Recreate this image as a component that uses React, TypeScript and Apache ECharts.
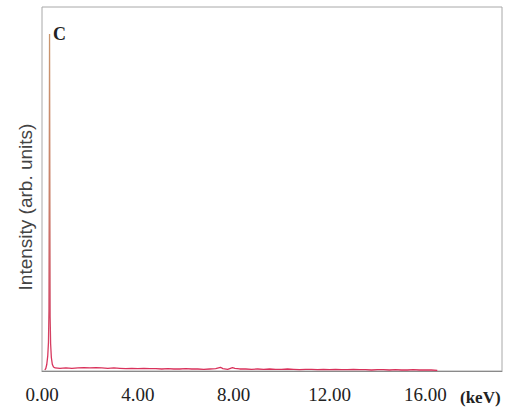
import React, { useEffect, useRef } from "react";
import * as echarts from "echarts";

// Energy (keV) and intensity (arb. units) of the EDS spectrum
const peakEnergy = [0.12, 0.16, 0.2, 0.24, 0.27, 0.29, 0.315, 0.34, 0.36, 0.39, 0.43, 0.48, 0.55];
const peakIntensity = [0.3, 0.8, 2.0, 4.5, 8.5, 18, 100, 16, 8, 4, 2.0, 1.2, 0.9];

const baseEnergy = [
  0.75, 1.0, 1.25, 1.5, 1.75, 2.0, 2.25, 2.5, 2.75, 3.0, 3.25, 3.5, 3.75, 4.0, 4.25, 4.5,
  4.75, 5.0, 5.25, 5.5, 5.75, 6.0, 6.25, 6.5, 6.75, 7.0, 7.25, 7.45, 7.55, 7.75, 7.95, 8.05,
  8.25, 8.5, 8.75, 9.0, 9.25, 9.5, 9.75, 10.0, 10.25, 10.5, 10.75, 11.0, 11.25, 11.5, 11.75,
  12.0, 12.25, 12.5, 12.75, 13.0, 13.25, 13.5, 13.75, 14.0, 14.25, 14.5, 14.75, 15.0, 15.25,
  15.5, 15.75, 16.0, 16.25, 16.5,
];
const baseIntensity = [
  0.8, 0.9, 0.8, 0.9, 1.0, 0.9, 1.0, 0.9, 0.8, 0.9, 0.8, 0.7, 0.8, 0.7, 0.8, 0.7,
  0.7, 0.6, 0.7, 0.6, 0.6, 0.7, 0.6, 0.6, 0.5, 0.6, 0.7, 1.1, 0.7, 0.5, 1.0, 0.8,
  0.6, 0.6, 0.5, 0.6, 0.5, 0.6, 0.5, 0.5, 0.6, 0.5, 0.4, 0.5, 0.5, 0.4, 0.5,
  0.4, 0.5, 0.4, 0.4, 0.5, 0.4, 0.4, 0.3, 0.4, 0.4, 0.3, 0.4, 0.3, 0.3,
  0.4, 0.3, 0.3, 0.3, 0.2,
];

const xTicks = [0, 4, 8, 12, 16];
const peakLabel = "C";
const yTitle = "Intensity (arb. units)";
const xUnit = "(keV)";

export default function App() {
  const ref = useRef<HTMLDivElement>(null);

  useEffect(() => {
    if (!ref.current) return;
    const chart = echarts.init(ref.current, undefined, { renderer: "svg" });
    const data: number[][] = [];
    peakEnergy.forEach((e, i) => data.push([e, peakIntensity[i]]));
    baseEnergy.forEach((e, i) => data.push([e, baseIntensity[i]]));

    chart.setOption({
      animation: false,
      backgroundColor: "#ffffff",
      grid: {
        left: 42,
        right: 11,
        top: 7,
        bottom: 38,
        show: true,
        borderColor: "#a8a8a8",
        borderWidth: 1,
      },
      xAxis: {
        type: "value",
        min: 0,
        max: 19.2,
        interval: 4,
        axisLine: { show: true, lineStyle: { color: "#8a8a8a", width: 1 } },
        axisTick: { show: false },
        splitLine: { show: false },
        axisLabel: {
          margin: 14,
          color: "#222",
          fontFamily: "Liberation Serif, Times New Roman, serif",
          fontSize: 19,
          formatter: (v: number) => (xTicks.includes(v) ? v.toFixed(2) : ""),
        },
      },
      yAxis: {
        type: "value",
        min: 0,
        max: 108,
        axisLine: { show: false },
        axisTick: { show: false },
        splitLine: { show: false },
        axisLabel: { show: false },
      },
      series: [
        {
          type: "line",
          data,
          showSymbol: false,
          symbol: "none",
          lineStyle: {
            width: 1.3,
            color: new echarts.graphic.LinearGradient(0, 0, 0, 1, [
              { offset: 0, color: "#c9966e" },
              { offset: 0.5, color: "#c9806a" },
              { offset: 0.8, color: "#d2506a" },
              { offset: 1, color: "#d9305a" },
            ]),
          },
        },
      ],
      graphic: [
        {
          type: "text",
          left: 53,
          top: 25,
          style: {
            text: peakLabel,
            fill: "#222",
            font: "bold 18px 'Liberation Serif', 'Times New Roman', serif",
          },
        },
        {
          type: "text",
          left: 460,
          top: 389,
          style: {
            text: xUnit,
            fill: "#222",
            font: "bold 17px 'Liberation Serif', 'Times New Roman', serif",
          },
        },
        {
          type: "text",
          x: 25,
          y: 207,
          rotation: Math.PI / 2,
          style: {
            text: yTitle,
            fill: "#444",
            align: "center",
            verticalAlign: "middle",
            font: "19px 'Liberation Sans', Arial, sans-serif",
          },
        },
      ],
    });
    return () => chart.dispose();
  }, []);

  return (
    <div
      ref={ref}
      style={{ position: "fixed", left: 0, top: 0, width: 513, height: 409 }}
    />
  );
}
